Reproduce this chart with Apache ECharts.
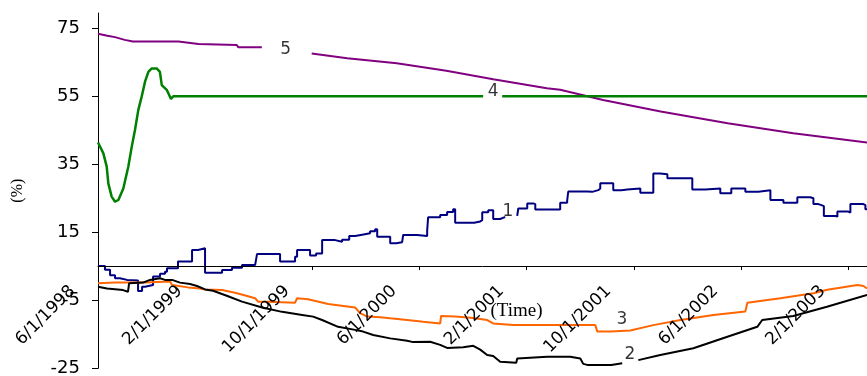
<!DOCTYPE html>
<html>
<head>
<meta charset="utf-8">
<script src="https://cdn.jsdelivr.net/npm/echarts@6/dist/echarts.min.js"></script>
<style>html,body{margin:0;padding:0;background:#fff}#c{width:867px;height:376px}</style>
</head>
<body>
<div id="c"></div>
<script>
// x values are months after 6/1/1998
const xTickValues = [0, 8, 16, 24, 32, 40, 48, 56];
const xTickLabels = ['6/1/1998', '2/1/1999', '10/1/1999', '6/1/2000', '2/1/2001', '10/1/2001', '6/1/2002', '2/1/2003'];
const yTickValues = [-25, -5, 15, 35, 55, 75];

const series1 = [[0,5.1],[0.52,4.0],[0.9,2.4],[1.27,1.5],[1.64,1.0],[2.17,0.8],[2.99,-2.3],[3.29,-1.0],[3.51,-0.5],[4.11,2.0],[4.63,2.8],[5.0,3.4],[5.15,4.4],[5.97,6.4],[7.02,9.8],[7.47,10.3],[7.99,3.1],[9.26,3.9],[10.0,4.6],[10.75,5.4],[11.73,5.9],[11.87,8.6],[13.59,6.4],[14.71,7.8],[14.86,9.8],[15.83,8.2],[16.28,8.8],[16.73,12.7],[17.7,12.2],[18.22,12.8],[18.75,13.9],[19.19,14.3],[19.72,14.7],[20.31,15.3],[20.69,15.9],[20.84,13.7],[21.81,11.8],[22.26,12.1],[22.7,12.5],[22.78,14.2],[23.82,14.7],[23.9,13.9],[24.57,15.5],[24.64,19.4],[25.54,20.1],[26.06,21.0],[26.51,21.8],[26.66,17.8],[28.08,18.2],[28.53,18.6],[28.68,20.9],[29.13,21.5],[29.5,18.9],[30.02,19.4],[30.32,19.4],[30.4,null],[31.29,19.8],[31.37,22.0],[32.04,23.5],[32.49,23.3],[32.64,21.7],[34.5,23.7],[35.02,24.3],[35.1,27.0],[36.52,26.9],[36.89,27.4],[37.34,27.9],[37.49,29.4],[38.46,27.4],[39.06,27.6],[39.51,27.9],[40.48,26.6],[41.45,32.3],[41.97,32.1],[42.5,30.9],[44.36,27.6],[45.33,27.9],[46.45,26.5],[47.27,27.9],[48.32,26.9],[49.29,27.4],[50.19,24.5],[51.16,23.7],[52.2,25.3],[53.17,25.0],[53.4,23.3],[53.77,23.0],[54.0,22.7],[54.18,19.8],[55.04,19.6],[55.19,21.1],[56.01,20.8],[56.16,23.3],[57.13,23.0],[57.28,21.8],[57.4,21.8]];

const series2 = [[0,-1.0],[0.67,-1.5],[1.87,-2.0],[2.24,-2.5],[2.32,0.0],[3.36,0.2],[3.88,1.0],[4.63,1.5],[5.0,1.0],[5.53,1.0],[6.12,0.2],[6.87,-0.2],[7.39,-0.8],[7.99,-1.8],[8.59,-2.2],[9.71,-3.8],[10.75,-5.4],[12.25,-7.1],[13.74,-8.4],[15.24,-9.3],[16.06,-9.8],[16.73,-10.8],[17.92,-12.8],[19.19,-13.7],[19.79,-14.2],[20.54,-15.2],[21.81,-16.2],[23.08,-16.9],[23.52,-17.3],[24.79,-17.2],[25.54,-18.1],[26.06,-19.0],[27.26,-18.8],[28.01,-18.4],[28.53,-19.5],[29.05,-21.1],[29.5,-21.4],[30.02,-23.1],[31.22,-23.4],[31.29,-22.1],[33.53,-21.6],[35.25,-21.6],[36.0,-22.1],[36.22,-23.7],[36.52,-24.0],[38.31,-24.0],[38.39,-23.5],[39.13,-23.5],[39.4,null],[40.33,-22.6],[41.97,-21.1],[44.44,-19.1],[46.98,-15.7],[49.21,-12.8],[49.58,-10.8],[51.9,-9.6],[54.41,-6.9],[57.4,-3.4]];

const series3 = [[0,0.0],[1.27,0.2],[3.51,0.2],[5.38,0.5],[5.53,-0.5],[6.72,-1.2],[7.62,-1.5],[7.99,-1.8],[9.26,-2.0],[10.23,-2.8],[11.2,-3.8],[11.73,-4.4],[11.95,-5.4],[12.7,-5.4],[14.71,-5.7],[14.86,-4.4],[15.68,-4.7],[17.18,-6.1],[19.19,-7.1],[19.57,-8.8],[20.09,-9.8],[21.06,-10.0],[21.81,-10.3],[23.08,-10.8],[24.27,-11.3],[25.54,-11.8],[25.61,-9.6],[26.66,-9.8],[28.01,-10.2],[29.05,-10.8],[29.5,-11.8],[30.99,-12.3],[37.12,-12.3],[37.27,-14.2],[38.24,-14.2],[39.73,-13.9],[41.45,-12.3],[43.47,-10.8],[45.94,-9.3],[48.32,-8.3],[48.47,-5.7],[50.93,-4.4],[53.4,-2.9],[54.44,-1.9],[56.68,-0.5],[57.13,-0.8],[57.4,-1.5]];

const series4 = [[0,41.4],[0.4,38.2],[0.65,34.3],[0.77,29.4],[1.02,25.5],[1.27,24.0],[1.52,24.5],[1.89,27.9],[2.26,34.3],[2.52,40.2],[2.76,45.1],[3.01,51.0],[3.26,54.9],[3.51,59.3],[3.76,62.2],[4.01,63.2],[4.38,63.2],[4.62,62.2],[4.76,58.3],[5.13,56.9],[5.45,54.2],[5.62,55.0],[28.75,55.0],[29.0,null],[30.17,55.0],[57.4,55.0]];

const series5 = [[0,73.4],[0.7,72.8],[1.27,72.4],[2.0,71.6],[2.6,71.1],[6.0,71.1],[6.1,70.6],[7.5,70.4],[7.6,70.1],[10.36,70.1],[10.48,69.4],[12.23,69.4],[12.5,null],[15.95,67.6],[18.6,66.2],[22.3,64.7],[26.0,62.5],[29.5,60.0],[33.5,57.4],[34.5,56.9],[37.7,53.9],[42.0,50.5],[47.0,47.1],[51.9,44.1],[57.4,41.4]];

const seriesLabels = [[30.6,21.0,'1'],[39.7,-21.1,'2'],[39.1,-10.8,'3'],[29.5,56.3,'4'],[14.0,68.6,'5']];

const chart = echarts.init(document.getElementById('c'), null, {renderer: 'canvas'});
const lineBase = {type: 'line', showSymbol: false, symbol: 'none', silent: true, animation: false, connectNulls: false};
chart.setOption({
  backgroundColor: '#fff',
  animation: false,
  grid: [
    {left: 98, right: 0, top: 13, bottom: 7.7, containLabel: false, outerBoundsMode: 'none'},
    {left: 98, right: 0, top: 13, bottom: 110, containLabel: false, outerBoundsMode: 'none'}
  ],
  xAxis: [{
    type: 'value', min: 0, max: 57.4, gridIndex: 0,
    axisLine: {show: false}, axisTick: {show: false}, axisLabel: {show: false}, splitLine: {show: false}
  }, {
    type: 'value', min: 0, max: 57.4, gridIndex: 1,
    z: 5,
    axisLine: {show: true, onZero: false, lineStyle: {color: '#000', width: 1}},
    axisTick: {show: true, customValues: xTickValues, length: 4, lineStyle: {color: '#000'}},
    axisLabel: {
      customValues: xTickValues, rotate: 45, margin: -3, padding: [0, 36, 0, 0],
      fontFamily: 'DejaVu Sans', fontSize: 17, color: '#000',
      formatter: v => xTickLabels[xTickValues.indexOf(Math.round(v))] || ''
    },
    splitLine: {show: false},
    name: '(Time)', nameLocation: 'middle', nameGap: 36, nameMoveOverlap: false,
    nameTextStyle: {fontFamily: 'Liberation Serif', fontSize: 19, color: '#000', padding: [0, 0, 0, 68]}
  }],
  yAxis: [{
    type: 'value', min: -25, max: 79.5, gridIndex: 0,
    axisLine: {show: true, onZero: false, lineStyle: {color: '#000', width: 1}},
    axisTick: {show: true, customValues: yTickValues, length: 6, lineStyle: {color: '#000'}},
    axisLabel: {customValues: yTickValues, margin: 18, fontFamily: 'DejaVu Sans', fontSize: 18, color: '#000'},
    splitLine: {show: false},
    name: '(%)', nameLocation: 'middle', nameGap: 72, nameRotate: 90, nameMoveOverlap: false,
    nameTextStyle: {fontFamily: 'Liberation Serif', fontSize: 16, color: '#000'}
  }, {
    type: 'value', min: 5, max: 79.5, gridIndex: 1, show: false, splitLine: {show: false}
  }],
  series: [
    Object.assign({}, lineBase, {name: '5', data: series5, lineStyle: {color: '#800080', width: 2}}),
    Object.assign({}, lineBase, {name: '4', data: series4, lineStyle: {color: '#008000', width: 2.5}}),
    Object.assign({}, lineBase, {name: '1', data: series1, step: 'end', lineStyle: {color: '#000080', width: 2}}),
    Object.assign({}, lineBase, {name: '3', data: series3, lineStyle: {color: '#FF6600', width: 2}}),
    Object.assign({}, lineBase, {name: '2', data: series2, lineStyle: {color: '#000000', width: 2}}),
    {
      type: 'scatter', data: seriesLabels, symbolSize: 1, silent: true, animation: false,
      itemStyle: {color: 'transparent'},
      label: {show: true, position: 'inside', formatter: p => p.value[2], fontFamily: 'DejaVu Sans', fontSize: 17, color: '#000'}
    }
  ]
});
</script>
</body>
</html>
